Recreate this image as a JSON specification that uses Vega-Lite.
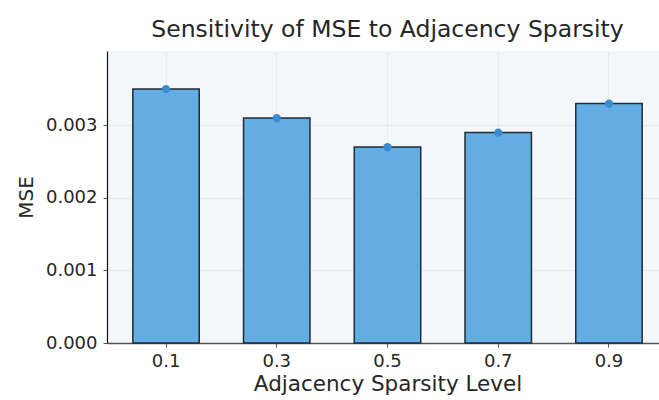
{
  "$schema": "https://vega.github.io/schema/vega-lite/v6.json",
  "autosize": {"type": "none"},
  "padding": {"left": 107, "top": 51, "right": 0, "bottom": 57},
  "width": 561,
  "height": 292,
  "background": "white",
  "config": {
    "font": "DejaVu Sans",
    "view": {"fill": "#f4f7fa", "stroke": null},
    "axis": {"labelColor": "#262626", "titleColor": "#262626", "labelFont": "DejaVu Sans", "titleFont": "DejaVu Sans", "titleFontWeight": "normal"}
  },
  "title": {
    "text": "Sensitivity of MSE to Adjacency Sparsity",
    "fontSize": 23.5,
    "fontWeight": "normal",
    "color": "#262626",
    "offset": 10
  },
  "data": {
    "values": [
      {"level": "0.1", "mse": 0.0035},
      {"level": "0.3", "mse": 0.0031},
      {"level": "0.5", "mse": 0.0027},
      {"level": "0.7", "mse": 0.0029},
      {"level": "0.9", "mse": 0.0033}
    ]
  },
  "encoding": {
    "x": {
      "field": "level",
      "type": "ordinal",
      "title": "Adjacency Sparsity Level",
      "scale": {"paddingInner": 0.4, "paddingOuter": 0.233},
      "axis": {
        "labelAngle": 0,
        "labelFontSize": 18,
        "titleFontSize": 21.5,
        "titlePadding": 3,
        "labelPadding": 5,
        "tickSize": 4,
        "tickColor": "#555555",
        "domainColor": "#555555",
        "domainWidth": 1.5,
        "grid": true,
        "gridColor": "#e6e9ec",
        "gridWidth": 0.8
      }
    },
    "y": {
      "field": "mse",
      "type": "quantitative",
      "title": "MSE",
      "scale": {"domain": [0, 0.004025], "nice": false},
      "axis": {
        "values": [0, 0.001, 0.002, 0.003],
        "format": ".3f",
        "labelFontSize": 18,
        "titleFontSize": 20,
        "titlePadding": 9,
        "labelPadding": 6,
        "tickSize": 4,
        "tickColor": "#555555",
        "domainColor": "#111111",
        "domainWidth": 1.2,
        "grid": true,
        "gridColor": "#e3e6ea",
        "gridWidth": 0.8
      }
    }
  },
  "layer": [
    {
      "mark": {"type": "bar", "fill": "#63ade2", "stroke": "#1f2d3a", "strokeWidth": 1.5}
    },
    {
      "mark": {"type": "circle", "color": "#3a8bd1", "size": 70, "opacity": 1}
    }
  ]
}
